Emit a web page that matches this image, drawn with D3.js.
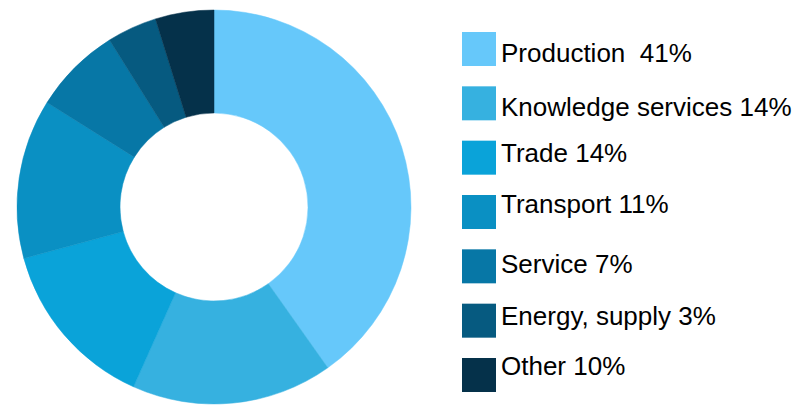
<!DOCTYPE html>
<html>
<head>
<meta charset="utf-8">
<script src="https://cdn.jsdelivr.net/npm/d3@7"></script>
<style>
  body { margin: 0; background: #fff; }
  svg { display: block; }
  .legend text { white-space: pre; }
</style>
</head>
<body>
<svg width="800" height="406"></svg>
<script>
// sector names and legend percentages as printed
const sectors = ["Production", "Knowledge services", "Trade", "Transport", "Service", "Energy, supply", "Other"];
const labelPct = [41, 14, 14, 11, 7, 3, 10];
// slice sizes as drawn in the picture (%)
const shares = [40.2, 16.5, 14.1, 13.1, 7.2, 4.1, 4.8];
const colors = ["#66c8fa", "#36b1e0", "#0aa3d9", "#0a90c3", "#0777a6", "#065a80", "#05314a"];

const svg = d3.select("svg");
const cx = 214, cy = 207, outerR = 197, innerR = 94;

const pie = d3.pie().sort(null).value(d => d);
const arc = d3.arc().innerRadius(innerR).outerRadius(outerR);

const g = svg.append("g").attr("transform", `translate(${cx},${cy})`);
g.selectAll("path.slice")
  .data(pie(shares))
  .join("path")
  .attr("class", "slice")
  .attr("d", arc)
  .attr("fill", (d, i) => colors[i])
  .attr("stroke", (d, i) => colors[i])
  .attr("stroke-width", 0.5);

/* --------- LEGEND --------- */
const rowY = d3.scalePoint().domain(sectors).range([32, 358]);
// the labels in the original sit a bit unevenly against their swatches
const textOffset = [30, 29.5, 21.5, 17.5, 23.5, 21, 16.5];

const legend = svg.append("g").attr("class", "legend");
const item = legend.selectAll("g.item")
  .data(sectors)
  .join("g")
  .attr("class", "item")
  .attr("transform", d => `translate(462,${rowY(d)})`);

item.append("rect")
  .attr("width", 34)
  .attr("height", 34)
  .attr("fill", (d, i) => colors[i]);

item.append("text")
  .attr("x", 39)
  .attr("y", (d, i) => textOffset[i])
  .attr("font-family", "'Liberation Sans', Arial, sans-serif")
  .attr("font-size", 26)
  .attr("fill", "#000")
  .text((d, i) => (i === 0 ? `${d}  ` : `${d} `) + `${labelPct[i]}%`);
</script>
</body>
</html>
